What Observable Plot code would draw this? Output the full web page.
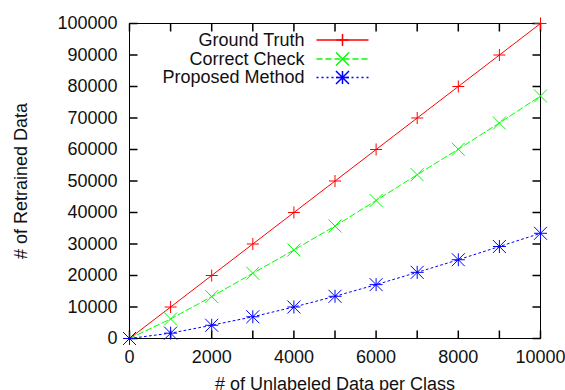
<!DOCTYPE html>
<html>
<head>
<meta charset="utf-8">
<script src="https://cdn.jsdelivr.net/npm/d3@7"></script>
<script src="https://cdn.jsdelivr.net/npm/@observablehq/plot@0.6"></script>
<style>
  html, body { margin: 0; padding: 0; background: #fff; overflow: hidden; }
</style>
</head>
<body>
<div id="chart"></div>
<script>
// ---- data ----
const unlabeledPerClass = [0, 1000, 2000, 3000, 4000, 5000, 6000, 7000, 8000, 9000, 10000];
const groundTruth    = [0, 10000, 20000, 30000, 40000, 50000, 60000, 70000, 80000, 90000, 100000];
const correctCheck   = [0, 6200, 13300, 20700, 28100, 35700, 43800, 52000, 60100, 68400, 77000];
const proposedMethod = [0, 1700, 4200, 6900, 10000, 13400, 17100, 21000, 25000, 29200, 33400];
const seriesNames  = ["Ground Truth", "Correct Check", "Proposed Method"];
const seriesColors = ["#ff0000", "#00ff00", "#0000ff"];
const seriesDashes = [null, "6,3", "2,3"];
const xTickValues  = [0, 1000, 2000, 3000, 4000, 5000, 6000, 7000, 8000, 9000, 10000];
const xTickLabels  = [0, 2000, 4000, 6000, 8000, 10000];
const yTickValues  = [0, 10000, 20000, 30000, 40000, 50000, 60000, 70000, 80000, 90000, 100000];
const xTitle = "# of Unlabeled Data per Class";
const yTitle = "# of Retrained Data";

// ---- symbols ----
const plusSym = {draw(c, size) { const r = Math.sqrt(size / Math.PI);
  c.moveTo(-r, 0); c.lineTo(r, 0); c.moveTo(0, -r); c.lineTo(0, r); }};
const timesSym = {draw(c, size) { const r = Math.sqrt(size / Math.PI);
  c.moveTo(-r, -r); c.lineTo(r, r); c.moveTo(-r, r); c.lineTo(r, -r); }};
const starSym = {draw(c, size) { const r = Math.sqrt(size / Math.PI);
  c.moveTo(-r, 0); c.lineTo(r, 0); c.moveTo(0, -r); c.lineTo(0, r);
  c.moveTo(-r, -r); c.lineTo(r, r); c.moveTo(-r, r); c.lineTo(r, -r); }};
const seriesSymbols = [plusSym, timesSym, starSym];
const seriesR = [6, 6.5, 6.5];

const tickLen = 8;
const tickUp    = {draw(c) { c.moveTo(0, 0); c.lineTo(0, -tickLen); }};
const tickDown  = {draw(c) { c.moveTo(0, 0); c.lineTo(0, tickLen); }};
const tickRight = {draw(c) { c.moveTo(0, 0); c.lineTo(tickLen, 0); }};
const tickLeft  = {draw(c) { c.moveTo(0, 0); c.lineTo(-tickLen, 0); }};
const legendSeg = {draw(c) { c.moveTo(-26, 0); c.lineTo(26, 0); }};

const seriesValues = [groundTruth, correctCheck, proposedMethod];
const data = seriesNames.map((name, s) =>
  unlabeledPerClass.map((x, i) => ({series: name, x, y: seriesValues[s][i]})));

const marks = [];
// inward ticks on all four sides
marks.push(Plot.dot(xTickValues, {x: d => d, frameAnchor: "bottom", symbol: tickUp, r: 1, stroke: "black", fill: "none"}));
marks.push(Plot.dot(xTickValues, {x: d => d, frameAnchor: "top", symbol: tickDown, r: 1, stroke: "black", fill: "none"}));
marks.push(Plot.dot(yTickValues, {y: d => d, frameAnchor: "left", symbol: tickRight, r: 1, stroke: "black", fill: "none"}));
marks.push(Plot.dot(yTickValues, {y: d => d, frameAnchor: "right", symbol: tickLeft, r: 1, stroke: "black", fill: "none"}));
marks.push(Plot.frame({stroke: "black", strokeWidth: 1}));
// tick labels
marks.push(Plot.axisX(xTickLabels, {anchor: "bottom", tickSize: 0, tickPadding: 12, tickFormat: d3.format("d"), label: null, fill: "#111"}));
marks.push(Plot.axisY(yTickValues, {anchor: "left", tickSize: 0, tickPadding: 12, tickFormat: d3.format("d"), label: null, fill: "#111"}));
// axis titles
marks.push(Plot.text([xTitle], {frameAnchor: "bottom", dy: 39, lineAnchor: "top", textAnchor: "middle", fill: "#111"}));
marks.push(Plot.text([yTitle], {frameAnchor: "left", dx: -108, rotate: -90, lineAnchor: "middle", textAnchor: "middle", fill: "#111"}));

// series
data.forEach((d, s) => {
  marks.push(Plot.line(d, {x: "x", y: "y", stroke: seriesColors[s], strokeWidth: 1, strokeDasharray: seriesDashes[s]}));
  marks.push(Plot.dot(d, {x: "x", y: "y", symbol: seriesSymbols[s], r: seriesR[s], stroke: seriesColors[s], fill: "none", strokeWidth: 1}));
});

// legend
const legendRowDy = [16.5, 35.5, 54];
seriesNames.forEach((name, s) => {
  marks.push(Plot.text([name], {frameAnchor: "top-left", dx: 175, dy: legendRowDy[s], textAnchor: "end", lineAnchor: "middle", fill: "#111"}));
  marks.push(Plot.dot([0], {frameAnchor: "top-left", dx: 213, dy: legendRowDy[s], symbol: legendSeg, r: 1, stroke: seriesColors[s], fill: "none", strokeDasharray: seriesDashes[s]}));
  marks.push(Plot.dot([0], {frameAnchor: "top-left", dx: 213, dy: legendRowDy[s], symbol: seriesSymbols[s], r: seriesR[s], stroke: seriesColors[s], fill: "none"}));
});

const chart = Plot.plot({
  width: 565,
  height: 390,
  marginLeft: 129,
  marginRight: 25,
  marginTop: 23,
  marginBottom: 52,
  style: {fontSize: "18px", fontFamily: "'Liberation Sans', Arial, Helvetica, sans-serif", background: "white", overflow: "visible"},
  x: {domain: [0, 10000], label: null},
  y: {domain: [0, 100000], label: null},
  marks
});
document.getElementById("chart").appendChild(chart);
</script>
</body>
</html>
